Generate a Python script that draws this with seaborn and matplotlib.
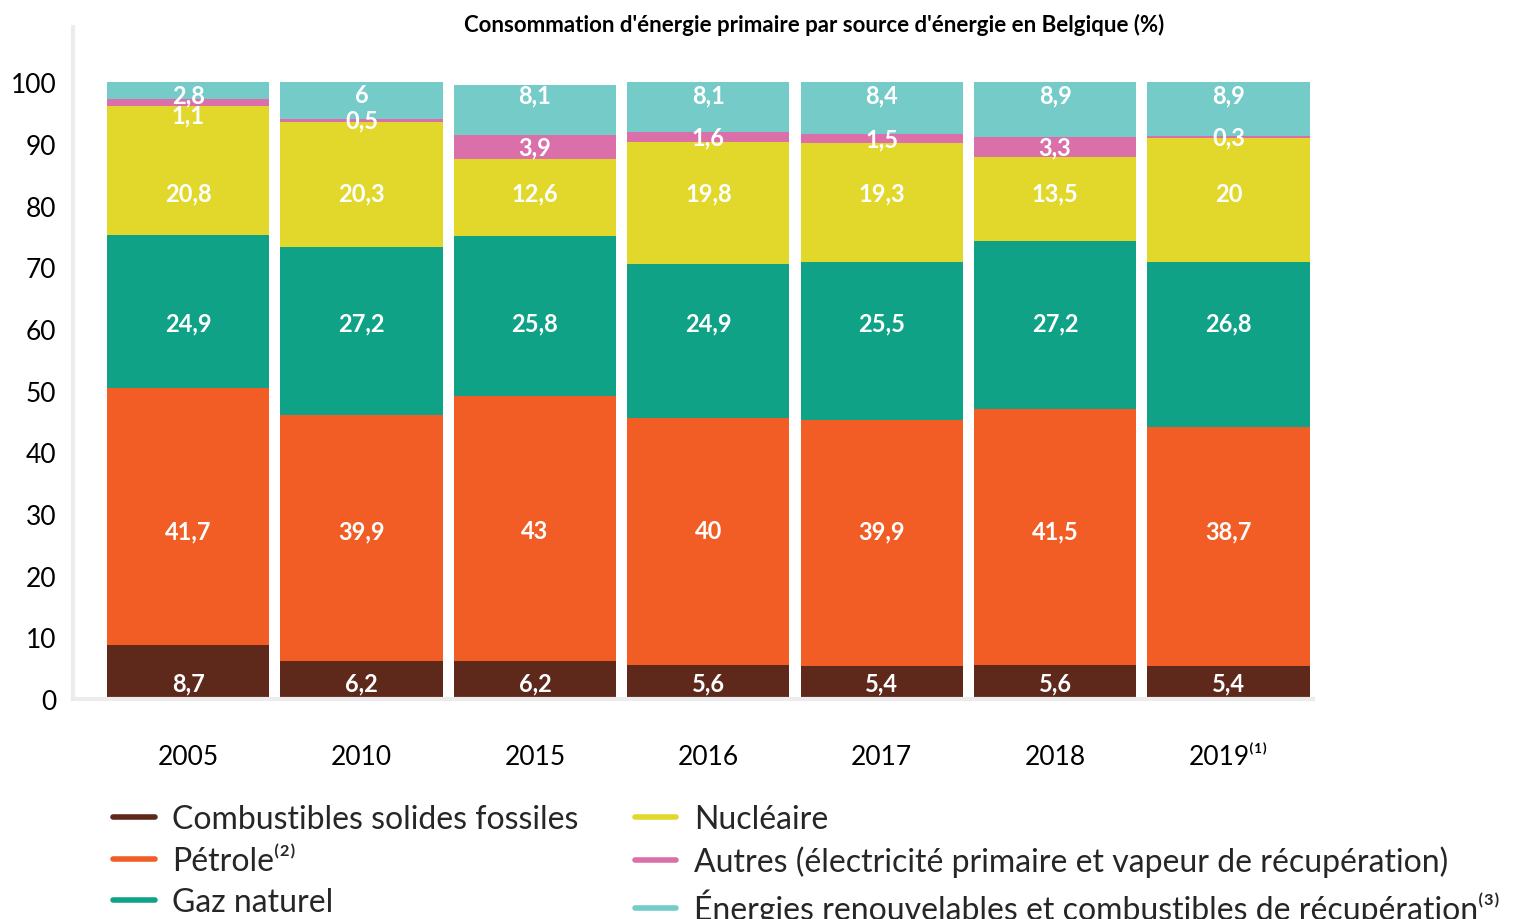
import matplotlib
matplotlib.use("Agg")
import matplotlib.pyplot as plt
import numpy as np
import pandas as pd
import seaborn as sns
from matplotlib.lines import Line2D

years = ["2005", "2010", "2015", "2016", "2017", "2018", "2019⁽¹⁾"]
solides = [8.7, 6.2, 6.2, 5.6, 5.4, 5.6, 5.4]
petrole = [41.7, 39.9, 43, 40, 39.9, 41.5, 38.7]
gaz = [24.9, 27.2, 25.8, 24.9, 25.5, 27.2, 26.8]
nucleaire = [20.8, 20.3, 12.6, 19.8, 19.3, 13.5, 20]
autres = [1.1, 0.5, 3.9, 1.6, 1.5, 3.3, 0.3]
renouvelables = [2.8, 6, 8.1, 8.1, 8.4, 8.9, 8.9]

series_names = [
    "Combustibles solides fossiles",
    "Pétrole⁽²⁾",
    "Gaz naturel",
    "Nucléaire",
    "Autres (électricité primaire et vapeur de récupération)",
    "Énergies renouvelables et combustibles de récupération⁽³⁾",
]
colors = ["#5E281B", "#F15D24", "#10A287", "#E1D82B", "#DA6FA9", "#74CBC8"]
title = "Consommation d'énergie primaire par source d'énergie en Belgique (%)"

FONT = ["Lato", "DejaVu Sans"]

sns.set_theme(style="white")
plt.rcParams["font.family"] = FONT

values = [solides, petrole, gaz, nucleaire, autres, renouvelables]
df = pd.DataFrame({name: v for name, v in zip(series_names, values)}, index=years)
cum = df.cumsum(axis=1)

fig = plt.figure(figsize=(15.21, 9.2), dpi=100)
ax = fig.add_axes([0.048, 0.239, 0.815, 0.731])

# draw stacked bars from the top down so lower series cover upper cumulative bars
for name, color in reversed(list(zip(series_names, colors))):
    sns.barplot(x=years, y=cum[name].values, color=color, saturation=1,
                width=0.935, linewidth=0, ax=ax)

# value labels (fixed rows like the original, "Autres" sits on its segment)
row_y = {0: 2.6, 1: 27.3, 2: 61.0, 3: 82.0, 5: 98.0}
fmt = lambda v: f"{v:g}".replace(".", ",")
for i, yr in enumerate(years):
    for j, name in enumerate(series_names):
        v = df.loc[yr, name]
        if j == 4:
            y = min(cum.loc[yr, name] - v / 2, row_y[5] - 3.3)
        else:
            y = row_y[j]
        ax.text(i, y, fmt(v), ha="center", va="center", color="white",
                fontsize=17, fontweight="bold")

ax.set_xlim(-0.664, 6.485)
ax.set_ylim(0, 109)
ax.set_yticks(range(0, 101, 10))
ax.tick_params(axis="y", labelsize=19, length=0, pad=12, labelcolor="black")
ax.tick_params(axis="x", labelsize=19, length=0, pad=32, labelcolor="black")
for s in ["top", "right"]:
    ax.spines[s].set_visible(False)
for s in ["left", "bottom"]:
    ax.spines[s].set_color("#ececec")
    ax.spines[s].set_linewidth(3)
ax.set_xlabel("")
ax.set_ylabel("")

fig.text(0.535, 0.973, title, ha="center", va="center", fontsize=16,
         fontweight="bold", color="black")

handles = [Line2D([0], [0], color=c, lw=4, solid_capstyle="round") for c in colors]
fig.legend(handles, series_names, loc="upper left", bbox_to_anchor=(0.064, 0.142),
           ncol=2, frameon=False, fontsize=23, handlelength=1.3, handletextpad=0.55,
           columnspacing=1.75, labelspacing=0.36, borderpad=0)

fig.savefig("out.png", dpi=100)
